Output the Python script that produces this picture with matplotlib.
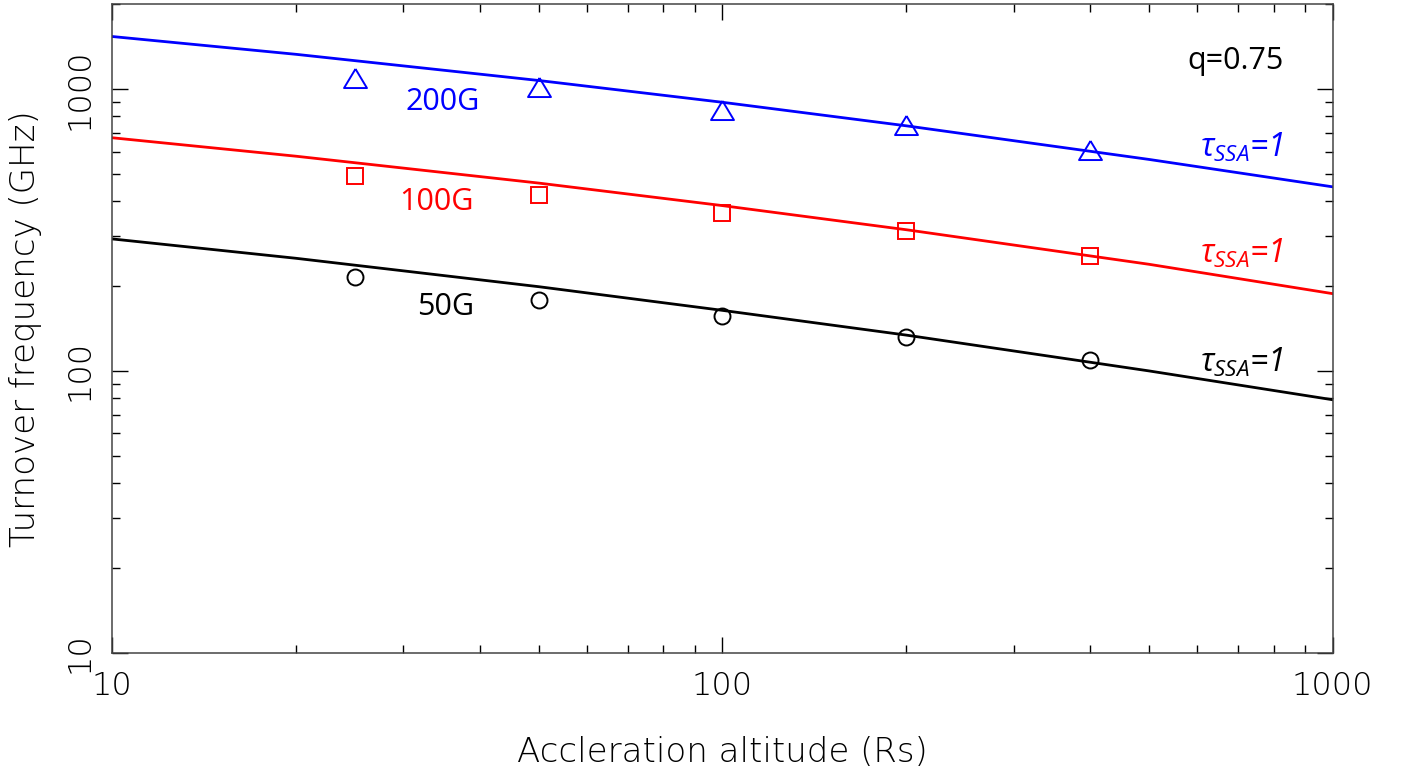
import matplotlib
matplotlib.use("Agg")
import matplotlib.pyplot as plt
from matplotlib.ticker import LogLocator, NullFormatter, FixedLocator, FixedFormatter

# ---------------- data ----------------
x_curve = [10, 20, 50, 100, 200, 500, 1000]
nu_200G = [1537, 1329, 1073, 898, 741, 563, 450]
nu_100G = [672, 578, 464, 386, 317, 239, 188]
nu_50G = [294, 251, 199, 164, 134, 100, 79]

x_pts = [25, 50, 100, 200, 400]
pts_200G = [1098, 1021, 846, 748, 610]
pts_100G = [491, 421, 363, 313, 255]
pts_50G = [216, 179, 156, 132, 109]

xticks = [10, 100, 1000]
xtick_labels = ["10", "100", "1000"]
yticks = [10, 100, 1000]
ytick_labels = ["10", "100", "1000"]

field_labels = ["200G", "100G", "50G"]
colors = ["#0000ff", "#ff0000", "#000000"]

# ---------------- style ----------------
plt.rcParams['mathtext.fontset'] = 'custom'
plt.rcParams['mathtext.rm'] = 'Open Sans'
plt.rcParams['mathtext.it'] = 'Open Sans:italic'
plt.rcParams['mathtext.bf'] = 'Open Sans:bold'

thin_tick = dict(family='DejaVu Sans', weight=200, size=23)
thin_lab = dict(family='DejaVu Sans', weight=200, size=24.5)

fig = plt.figure(figsize=(14.03, 7.73), dpi=100)
ax = fig.add_axes([0.08004, 0.15563, 0.86985, 0.83881])
ax.set_xscale('log')
ax.set_yscale('log')
ax.set_xlim(10, 1000)
ax.set_ylim(10, 2000)

lw = 2.0
tri = [(0, 1), (-1.2, -1), (1.2, -1), (0, 1)]
ax.plot(x_curve, nu_200G, color=colors[0], lw=lw)
ax.plot(x_curve, nu_100G, color=colors[1], lw=lw)
ax.plot(x_curve, nu_50G, color=colors[2], lw=lw)
ax.plot(x_pts, pts_200G, ls='none', marker=tri, ms=16.5, mfc='none', mec=colors[0], mew=1.4)
ax.plot(x_pts, pts_100G, ls='none', marker='s', ms=12, mfc='none', mec=colors[1], mew=1.4)
ax.plot(x_pts, pts_50G, ls='none', marker='o', ms=11.5, mfc='none', mec=colors[2], mew=1.4)

# annotations
txt_font = dict(family='Open Sans', size=22)
ax.text(34.8, 844, field_labels[0], color=colors[0], ha='center', va='baseline', **txt_font)
ax.text(34.0, 373, field_labels[1], color=colors[1], ha='center', va='baseline', **txt_font)
ax.text(35.2, 158, field_labels[2], color=colors[2], ha='center', va='baseline', **txt_font)

tau = r'$\tau_{SSA}$=1'
tau_font = dict(family='Open Sans', style='italic', size=23)
ax.text(606, 575, tau, color=colors[0], ha='left', va='baseline', **tau_font)
ax.text(606, 242, tau, color=colors[1], ha='left', va='baseline', **tau_font)
ax.text(606, 99.2, tau, color=colors[2], ha='left', va='baseline', **tau_font)

ax.text(577, 1180, "q=0.75", color='black', ha='left', va='baseline', **txt_font)

# axes & ticks
for s in ax.spines.values():
    s.set_color('#444444')
    s.set_linewidth(1.1)

ax.xaxis.set_major_locator(FixedLocator(xticks))
ax.xaxis.set_major_formatter(FixedFormatter(xtick_labels))
ax.yaxis.set_major_locator(FixedLocator(yticks))
ax.yaxis.set_major_formatter(FixedFormatter(ytick_labels))
ax.xaxis.set_minor_locator(LogLocator(base=10, subs=range(2, 10), numticks=20))
ax.yaxis.set_minor_locator(LogLocator(base=10, subs=range(2, 10), numticks=20))
ax.xaxis.set_minor_formatter(NullFormatter())
ax.yaxis.set_minor_formatter(NullFormatter())

ax.tick_params(which='both', direction='in', top=True, right=True, color='black', width=1.0)
ax.tick_params(which='major', length=11.5)
ax.tick_params(which='minor', length=5.8)
ax.tick_params(axis='x', which='major', pad=13.0)
ax.tick_params(axis='y', which='major', pad=13.0)

for lab in ax.get_xticklabels():
    lab.set_fontproperties(matplotlib.font_manager.FontProperties(**thin_tick))
for lab in ax.get_yticklabels():
    lab.set_fontproperties(matplotlib.font_manager.FontProperties(**thin_tick))
    lab.set_rotation(90)
    lab.set_va('center')
    lab.set_ha('right')

ax.set_xlabel("Accleration altitude (Rs)", **thin_lab)
ax.xaxis.set_label_coords(0.5, -(762 - 652.7) / 648.4)
ax.xaxis.label.set_va('baseline')

ax.set_ylabel("Turnover frequency (GHz)", **thin_lab)
ax.yaxis.set_label_coords((35 - 112.3) / 1220.4, 0.5)
ax.yaxis.label.set_va('baseline')
ax.yaxis.label.set_rotation_mode('anchor')

fig.savefig("out.png", dpi=100)
